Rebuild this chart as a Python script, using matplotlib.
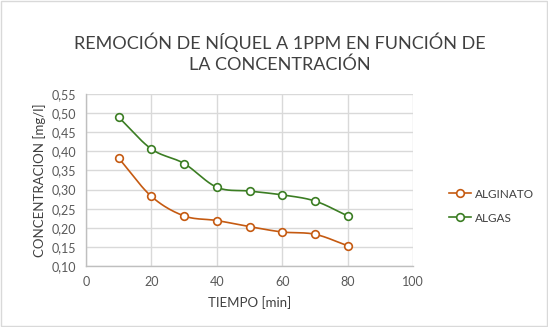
import numpy as np
import matplotlib
matplotlib.use("Agg")
import matplotlib.pyplot as plt
from matplotlib.lines import Line2D

tiempo = [10, 20, 30, 40, 50, 60, 70, 80]
alginato = [0.382, 0.282, 0.231, 0.219, 0.203, 0.189, 0.183, 0.153]
algas = [0.489, 0.406, 0.368, 0.306, 0.296, 0.286, 0.270, 0.231]
xticks = [0, 20, 40, 60, 80, 100]
yticks = [0.10, 0.15, 0.20, 0.25, 0.30, 0.35, 0.40, 0.45, 0.50, 0.55]

plt.rcParams['font.family'] = ['Lato', 'DejaVu Sans']

def smooth(x, y, n=20):
    x = np.asarray(x, float); y = np.asarray(y, float)
    px = np.concatenate([[2*x[0]-x[1]], x, [2*x[-1]-x[-2]]])
    py = np.concatenate([[2*y[0]-y[1]], y, [2*y[-1]-y[-2]]])
    xs, ys = [], []
    for i in range(1, len(px)-2):
        p0, p1, p2, p3 = [np.array([px[j], py[j]]) for j in (i-1, i, i+1, i+2)]
        c1 = p1 + (p2 - p0) / 6.0
        c2 = p2 - (p3 - p1) / 6.0
        t = np.linspace(0, 1, n, endpoint=(i == len(px)-3))
        b = ((1-t)**3)[:, None]*p1 + (3*(1-t)**2*t)[:, None]*c1 + (3*(1-t)*t**2)[:, None]*c2 + (t**3)[:, None]*p2
        xs.extend(b[:, 0]); ys.extend(b[:, 1])
    return np.array(xs), np.array(ys)

fig = plt.figure(figsize=(5.48, 3.27), dpi=100)
fig.patch.set_facecolor('white')
ax = fig.add_axes([0.157, 0.1865, 0.597, 0.526])

c_alg = '#C55A11'
c_algas = '#3B7D23'
grid_c = '#D9D9D9'

for ys, c, lab in [(alginato, c_alg, 'ALGINATO'), (algas, c_algas, 'ALGAS')]:
    sx, sy = smooth(tiempo, ys)
    ax.plot(sx, sy, color=c, lw=1.2, zorder=3)
    ax.plot(tiempo, ys, ls='none', marker='o', ms=5.5, mfc='white', mec=c, mew=1.2, zorder=4)

ax.set_xlim(0, 100)
ax.set_ylim(0.10, 0.55)
ax.set_xticks(xticks)
ax.set_yticks(yticks)
ax.set_yticklabels([f"{v:.2f}".replace('.', ',') for v in yticks])
ax.grid(True, color=grid_c, lw=1)
ax.set_axisbelow(True)
for s in ['top', 'right']:
    ax.spines[s].set_visible(False)
for s in ['left', 'bottom']:
    ax.spines[s].set_color('#BFBFBF')
    ax.spines[s].set_linewidth(1)
ax.tick_params(length=0, labelsize=9, colors='#595959', pad=7)
ax.set_xlabel('TIEMPO [min]', fontsize=9.5, color='#404040', labelpad=6)
ax.set_ylabel('CONCENTRACION [mg/l]', fontsize=9.5, color='#404040', labelpad=4)

fig.text(0.51, 0.838, 'REMOCIÓN DE NÍQUEL A 1PPM EN FUNCIÓN DE\nLA CONCENTRACIÓN',
         ha='center', va='center', fontsize=13, color='#404040', linespacing=1.3)

handles = [Line2D([0], [0], color=c_alg, lw=1.2, marker='o', ms=5.5, mfc='white', mec=c_alg, mew=1.2),
           Line2D([0], [0], color=c_algas, lw=1.2, marker='o', ms=5.5, mfc='white', mec=c_algas, mew=1.2)]
leg = fig.legend(handles, ['ALGINATO', 'ALGAS'], loc='center left', bbox_to_anchor=(0.8, 0.37),
                 frameon=False, fontsize=8.5, handlelength=1.9, handletextpad=0.3, labelspacing=1.1)
for t in leg.get_texts():
    t.set_color('#404040')

fig.add_artist(plt.Rectangle((0.002, 0.003), 0.996, 0.994, transform=fig.transFigure,
                             fill=False, ec='#D9D9D9', lw=1))

fig.savefig('out.png', dpi=100, facecolor='white')
